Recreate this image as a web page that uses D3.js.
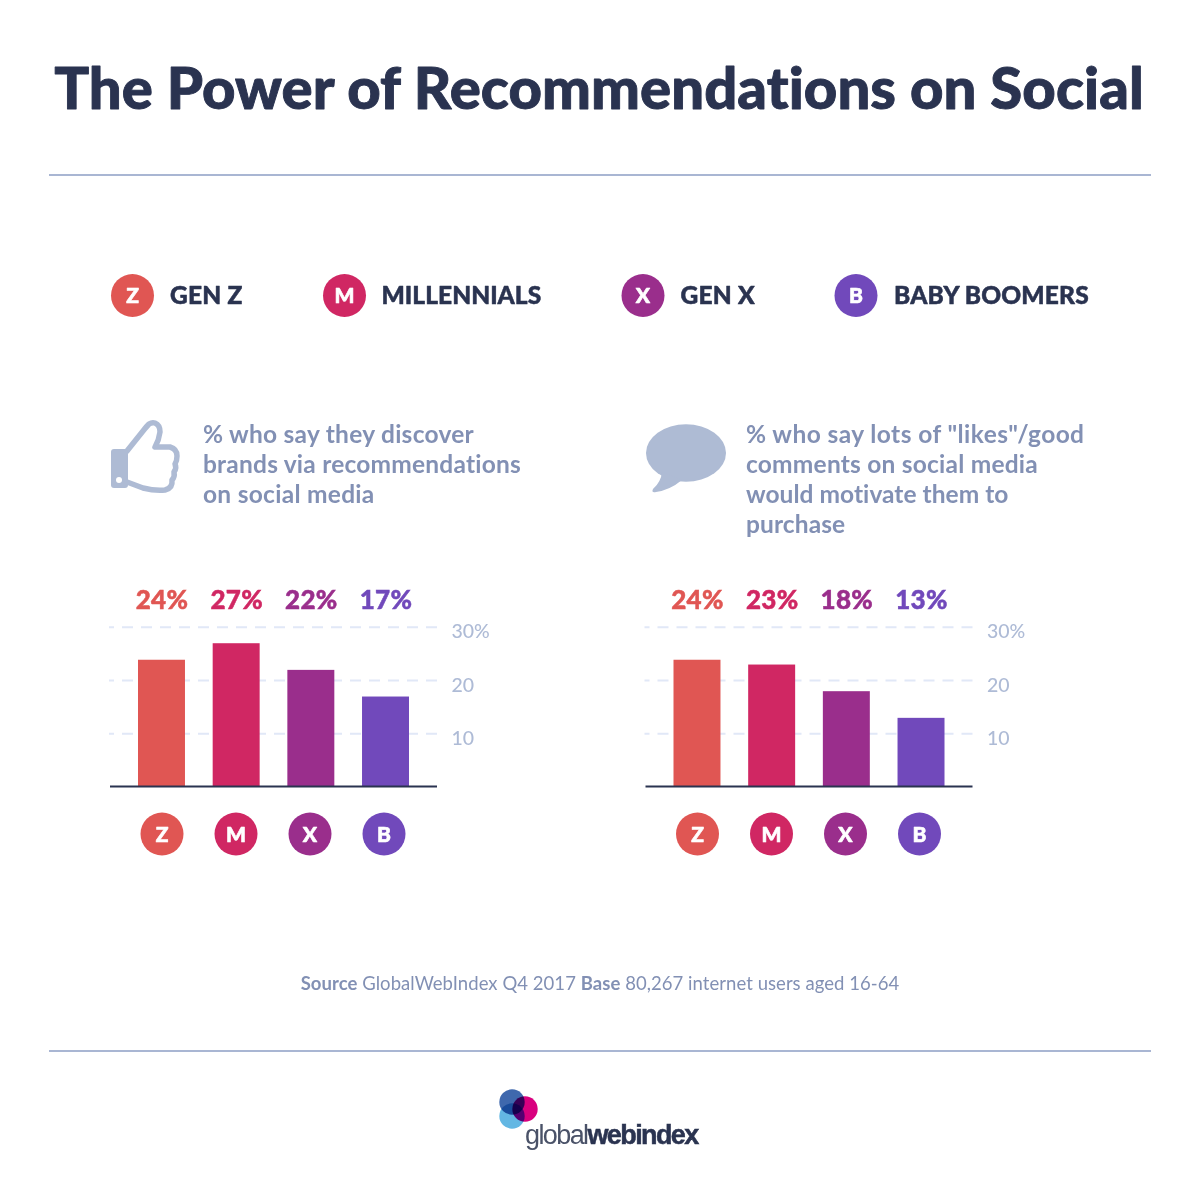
<!DOCTYPE html>
<html><head><meta charset="utf-8">
<script src="https://cdn.jsdelivr.net/npm/d3@7"></script>
<style>html,body{margin:0;background:#fff}svg{display:block}text{font-family:Lato,sans-serif;font-variant-ligatures:none}</style>
</head><body><svg id="c" width="1200" height="1200"></svg>
<script>
const generations = ["Z","M","X","B"];
const legendNames = ["GEN Z","MILLENNIALS","GEN X","BABY BOOMERS"];
const colors = ["#e05653","#d02763","#9a2e8c","#7149bb"];
const discoverValues = [23.8,26.9,21.9,16.9];
const motivateValues = [23.8,22.9,17.9,12.9];
const tickValues = [10,20,30];
const tickLabels = ["10","20","30%"];
const discoverLines = ["% who say they discover","brands via recommendations","on social media"];
const motivateLines = ['% who say lots of "likes"/good',"comments on social media","would motivate them to","purchase"];

const svg = d3.select("#c");
const INK="#2a3350", MUTED="#8290b4", ICON="#aebbd4";
const heavy=(s,c,w)=>s.attr("stroke",c).attr("stroke-width",w).attr("stroke-linejoin","round");

heavy(svg.append("text").attr("x",599).attr("y",108.5).attr("text-anchor","middle")
  .attr("font-size",58).attr("font-weight",900).attr("fill",INK).attr("letter-spacing",0.08).text("The Power of Recommendations on Social"),INK,0.9);
[175,1051].forEach(y=>svg.append("line").attr("x1",49).attr("x2",1151).attr("y1",y).attr("y2",y).attr("stroke","#a9b6d3").attr("stroke-width",2));

function badge(g,x,y,i){
  g.append("circle").attr("cx",x).attr("cy",y).attr("r",21.5).attr("fill",colors[i]);
  heavy(g.append("text").attr("x",x).attr("y",y+7.5).attr("text-anchor","middle").attr("font-size",21).attr("font-weight",900).attr("fill","#fff").text(generations[i]),"#fff",0.6);
}
const legendG = svg.append("g");
const legendX=[132.5,344.5,643,856], legendTextX=[170,381.5,680.5,894];
const legendSpacing=[0.25,0.05,0.25,0.2];
legendNames.forEach((n,i)=>{
  badge(legendG,legendX[i],295.5,i);
  heavy(legendG.append("text").attr("x",legendTextX[i]).attr("y",303.5).attr("font-size",24.5).attr("font-weight",900).attr("letter-spacing",legendSpacing[i]).attr("fill",INK).text(n),INK,0.5);
});

const thumb = svg.append("g");
thumb.append("path").attr("d","M127 451L143 431Q147 426 149 424Q152 422 155 423Q160 425 160 432Q159 440 155 447L170 447Q177 449 177 456Q177 461 175 464Q177 468 174 472Q175 477 172 480Q173 488 165 490Q155 491 143 488L127 482")
  .attr("fill","none").attr("stroke",ICON).attr("stroke-width",5.5).attr("stroke-linejoin","round").attr("stroke-linecap","round");
thumb.append("rect").attr("x",111).attr("y",449).attr("width",17).attr("height",39).attr("rx",3).attr("fill",ICON);
thumb.append("circle").attr("cx",119).attr("cy",480).attr("r",3).attr("fill","#fff");

const bubble = svg.append("g").attr("fill",ICON);
bubble.append("ellipse").attr("cx",686).attr("cy",453).attr("rx",40).attr("ry",28.7);
bubble.append("path").attr("d","M662 472Q661 482 653 489Q651 493 656 492Q670 490 682 480Z");

function lines(x,arr,spacing){
  arr.forEach((t,i)=>svg.append("text").attr("x",x).attr("y",443+i*30).attr("font-size",24.5).attr("font-weight",700).attr("letter-spacing",spacing[i]).attr("fill",MUTED).text(t));
}
lines(203,discoverLines,[0.26,0.22,0.28]); lines(746,motivateLines,[0.42,0.22,0.04,0.1]);

const y = d3.scaleLinear().domain([0,30]).range([786.6,626.7]);
const valueLabel = d3.format(".0f");
function chart(dx,values){
  const g = svg.append("g").attr("transform",`translate(${dx},0)`);
  const x = d3.scaleBand().domain(generations).range([138,409]).paddingInner(0.371).paddingOuter(0);
  const badgeX = d3.scalePoint().domain(generations).range([162,384]);
  const ax = g.append("g").attr("transform","translate(437,0)")
    .call(d3.axisRight(y).tickValues(tickValues).tickSize(-328).tickPadding(15).tickFormat((d,i)=>tickLabels[i]));
  ax.select(".domain").remove();
  ax.selectAll("line").attr("stroke","#e1e8f7").attr("stroke-width",2).attr("stroke-dasharray","11 8");
  ax.selectAll("text").attr("font-family","Lato").attr("font-size",19.5).attr("font-weight",500).attr("fill","#aebbd6").attr("dy",11).attr("x",14.5);
  g.selectAll(".bar").data(values).join("rect").attr("class","bar")
    .attr("x",(d,i)=>x(generations[i])).attr("width",x.bandwidth())
    .attr("y",d=>y(d)).attr("height",d=>y(0)-y(d)).attr("fill",(d,i)=>colors[i]);
  g.selectAll(".val").data(values).join("text").attr("class","val")
    .attr("x",(d,i)=>x(generations[i])+x.bandwidth()/2+0.5).attr("y",609).attr("text-anchor","middle")
    .attr("font-size",26).attr("font-weight",900).attr("letter-spacing",0.3).attr("fill",(d,i)=>colors[i]).attr("stroke",(d,i)=>colors[i]).attr("stroke-width",0.5).text(d=>valueLabel(d)+"%");
  g.append("line").attr("x1",110).attr("x2",437).attr("y1",y(0)).attr("y2",y(0)).attr("stroke",INK).attr("stroke-width",2);
  generations.forEach((k,i)=>badge(g,badgeX(k),834,i));
}
chart(0,discoverValues); chart(535.5,motivateValues);

const src = svg.append("text").attr("x",600).attr("y",989.5).attr("text-anchor","middle").attr("font-size",18.5).attr("letter-spacing",0.05).attr("fill",MUTED);
src.append("tspan").attr("font-weight",700).text("Source");
src.append("tspan").text(" GlobalWebIndex Q4 2017 ");
src.append("tspan").attr("font-weight",700).text("Base");
src.append("tspan").text(" 80,267 internet users aged 16-64");

const logo = svg.append("g");
logo.append("circle").attr("cx",512).attr("cy",1116).attr("r",12.7).attr("fill","#63b7e3");
logo.append("circle").attr("cx",525).attr("cy",1109).attr("r",12.7).attr("fill","#d9007f").style("mix-blend-mode","multiply");
logo.append("circle").attr("cx",512).attr("cy",1102).attr("r",12.7).attr("fill","#3f68ad").style("mix-blend-mode","multiply");
const lt = logo.append("text").attr("x",525).attr("y",1144).attr("font-size",27).attr("fill",INK).attr("letter-spacing",-1.6).style("font-family","'Liberation Sans'");
lt.append("tspan").attr("font-weight",400).attr("fill","#4a5268").text("global");
lt.append("tspan").attr("font-weight",700).attr("stroke",INK).attr("stroke-width",0.5).text("webindex");
</script></body></html>
